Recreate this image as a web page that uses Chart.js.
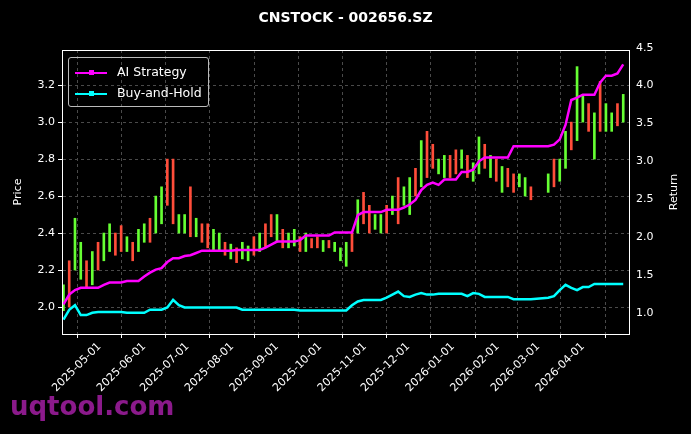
<!DOCTYPE html>
<html><head><meta charset="utf-8">
<script src="https://cdn.jsdelivr.net/npm/chart.js@4"></script>
<style>
body{margin:0;background:#000;width:691px;height:434px;overflow:hidden;font-family:"DejaVu Sans",sans-serif}
#wrap{position:absolute;left:0;top:0;width:691px;height:434px}
#title{position:absolute;top:9px;width:691px;text-align:center;color:#fff;font-weight:bold;font-size:14px}
#legend{position:absolute;left:68px;top:57px;border:1px solid #bbb;border-radius:3px;padding:3px 6px;color:#fff;font-size:12.5px;line-height:21px}
#legend span{display:inline-block;width:32px;height:2px;vertical-align:middle;margin-right:10px;position:relative}
#legend span i{position:absolute;left:14px;top:-2px;width:5px;height:5px;background:inherit}
#mark{position:absolute;left:10px;top:391px;color:#8b1a8b;font-weight:bold;font-size:26px}
</style></head><body>
<div id="wrap"><canvas id="c" width="691" height="434"></canvas></div>
<div id="title">CNSTOCK - 002656.SZ</div>
<div id="legend"><div><span style="background:#ff00ff"><i></i></span>AI Strategy</div><div><span style="background:#00ffff"><i></i></span>Buy-and-Hold</div></div>
<div id="mark">uqtool.com</div>
<script>
// days since 2025-05-01, every 4th day
let startDay = -25, stepDay = 4
let lows = [1.98,2.0,2.2,2.15,2.1,2.12,2.2,2.25,2.3,2.28,2.3,2.3,2.25,2.3,2.35,2.35,2.4,2.45,2.55,2.45,2.4,2.4,2.38,2.38,2.35,2.32,2.3,2.3,2.28,2.26,2.24,2.26,2.25,2.28,2.3,2.32,2.38,2.35,2.32,2.32,2.33,2.3,2.3,2.32,2.32,2.3,2.32,2.3,2.25,2.22,2.3,2.4,2.45,2.4,2.42,2.4,2.4,2.5,2.45,2.55,2.5,2.6,2.65,2.7,2.75,2.72,2.7,2.7,2.72,2.75,2.7,2.68,2.72,2.75,2.7,2.68,2.62,2.65,2.62,2.65,2.6,2.58,null,null,2.62,2.65,2.68,2.75,2.85,2.9,3.0,2.95,2.8,2.95,2.95,2.95,2.98,3.0]
let highs = [2.12,2.25,2.48,2.35,2.25,2.3,2.35,2.4,2.45,2.4,2.44,2.38,2.35,2.42,2.45,2.48,2.6,2.65,2.8,2.8,2.5,2.5,2.65,2.48,2.45,2.45,2.42,2.4,2.35,2.34,2.32,2.35,2.33,2.38,2.4,2.45,2.5,2.5,2.42,2.4,2.42,2.38,2.4,2.37,2.38,2.36,2.36,2.35,2.32,2.35,2.4,2.58,2.62,2.55,2.5,2.5,2.55,2.6,2.7,2.65,2.7,2.75,2.9,2.95,2.88,2.8,2.82,2.82,2.85,2.85,2.82,2.78,2.92,2.88,2.82,2.8,2.76,2.75,2.72,2.72,2.7,2.65,null,null,2.72,2.8,2.8,2.95,3.0,3.3,3.15,3.1,3.05,3.22,3.1,3.05,3.1,3.15]
let upDays = '1011010110010110110011010011010110100101101001011101001101011010011001011010100110xx10110110101101'
let aiReturn = [1.11,1.24,1.30,1.33,1.33,1.33,1.33,1.37,1.40,1.40,1.40,1.42,1.42,1.42,1.48,1.53,1.57,1.59,1.67,1.72,1.72,1.75,1.76,1.79,1.82,1.82,1.82,1.82,1.82,1.82,1.83,1.83,1.83,1.83,1.83,1.86,1.90,1.94,1.94,1.94,1.94,1.96,2.02,2.02,2.02,2.02,2.02,2.06,2.06,2.06,2.06,2.29,2.33,2.33,2.33,2.33,2.36,2.36,2.36,2.39,2.43,2.49,2.62,2.69,2.72,2.69,2.76,2.76,2.76,2.86,2.86,2.89,3.0,3.05,3.05,3.05,3.05,3.05,3.2,3.2,3.2,3.2,null,null,3.2,3.22,3.29,3.48,3.81,3.84,3.88,3.88,3.88,4.04,4.13,4.13,4.16,4.28]
let bhReturn = [0.91,1.04,1.10,0.97,0.97,1.0,1.01,1.01,1.01,1.01,1.01,1.0,1.0,1.0,1.0,1.04,1.04,1.04,1.07,1.17,1.10,1.07,1.07,1.07,1.07,1.07,1.07,1.07,1.07,1.07,1.07,1.04,1.04,1.04,1.04,1.04,1.04,1.04,1.04,1.04,1.04,1.03,1.03,1.03,1.03,1.03,1.03,1.03,1.03,1.03,1.10,1.15,1.17,1.17,1.17,1.17,1.20,1.24,1.28,1.22,1.21,1.24,1.26,1.24,1.24,1.25,1.25,1.25,1.25,1.25,1.22,1.26,1.25,1.21,1.21,1.21,1.21,1.21,1.18,1.18,1.18,1.18,null,null,1.20,1.22,1.30,1.37,1.33,1.30,1.34,1.34,1.38,1.38,1.38,1.38,1.38,1.38]
let monthDays = [0,31,61,92,123,153,184,214,245,276,304,335]
let monthLabels = ['2025-05-01','2025-06-01','2025-07-01','2025-08-01','2025-09-01','2025-10-01','2025-11-01','2025-12-01','2026-01-01','2026-02-01','2026-03-01','2026-04-01']
let priceTicks = [2.0,2.2,2.4,2.6,2.8,3.0,3.2]
let returnTicks = [1.0,1.5,2.0,2.5,3.0,3.5,4.0,4.5]

let days = lows.map((v, i) => startDay + i * stepDay)
let candles = [], candleColors = []
lows.forEach((lo, i) => {
    if (lo === null) return
    candles.push({x: days[i], y: [lo, highs[i]]})
    candleColors.push(upDays[i] === '1' ? '#66ff33' : '#ff4d3a')
})
let aiPts = [], bhPts = []
days.forEach((d, i) => {
    aiPts.push({x: d, y: aiReturn[i]})
    bhPts.push({x: d, y: bhReturn[i]})
})
let grid = {color: '#4a4a4a', drawTicks: true, tickColor: '#fff', tickLength: 4}
let dashBorder = {color: '#fff', dash: [3, 3]}
let tickFont = {family: 'DejaVu Sans', size: 11}

new Chart(document.getElementById('c'), {
    data: {
        datasets: [
            {type: 'bar', data: candles, backgroundColor: candleColors, barThickness: 2, yAxisID: 'y', order: 3},
            {type: 'line', data: aiPts, borderColor: '#ff00ff', borderWidth: 2.5, pointRadius: 0, yAxisID: 'y2', spanGaps: true, order: 1},
            {type: 'line', data: bhPts, borderColor: '#00ffff', borderWidth: 2.5, pointRadius: 0, yAxisID: 'y2', spanGaps: true, order: 2}
        ]
    },
    options: {
        responsive: false, animation: false,
        layout: {padding: {top: 50, left: 0, right: 0, bottom: 0}},
        plugins: {legend: {display: false}, tooltip: {enabled: false}},
        scales: {
            x: {
                type: 'linear', min: -26, max: 367, offset: false,
                grid: grid, border: dashBorder,
                afterBuildTicks: s => { s.ticks = monthDays.map(v => ({value: v})) },
                ticks: {color: '#fff', font: tickFont, maxRotation: 45, minRotation: 45, autoSkip: false, padding: 2,
                    callback: (v) => monthLabels[monthDays.indexOf(v)]},
                afterFit: s => { s.height = 100 }
            },
            y: {
                position: 'left', min: 1.854, max: 3.39,
                grid: grid, border: dashBorder,
                afterBuildTicks: s => { s.ticks = priceTicks.map(v => ({value: v})) },
                ticks: {color: '#fff', font: tickFont, padding: 3, callback: v => v.toFixed(1)},
                afterFit: s => { s.width = 62 }
            },
            y2: {
                position: 'right', min: 0.72, max: 4.47,
                grid: {display: false, tickColor: '#fff', tickLength: 4}, border: {color: '#fff'},
                afterBuildTicks: s => { s.ticks = returnTicks.map(v => ({value: v})) },
                ticks: {color: '#fff', font: tickFont, padding: 3, callback: v => v.toFixed(1)},
                afterFit: s => { s.width = 62 }
            }
        }
    },
    plugins: [{
        id: 'box',
        afterDraw: c => {
            let a = c.chartArea, g = c.ctx
            g.save(); g.strokeStyle = '#fff'; g.lineWidth = 1
            g.strokeRect(a.left + 0.5, a.top + 0.5, a.right - a.left, a.bottom - a.top)
            g.fillStyle = '#fff'; g.font = '11px "DejaVu Sans"'; g.textAlign = 'center'
            let mid = (a.top + a.bottom) / 2
            g.translate(21, mid); g.rotate(-Math.PI / 2); g.fillText('Price', 0, 0)
            g.setTransform(1, 0, 0, 1, 0, 0)
            g.translate(677, mid); g.rotate(-Math.PI / 2); g.fillText('Return', 0, 0)
            g.restore()
        }
    }]
})
</script>
</body></html>
